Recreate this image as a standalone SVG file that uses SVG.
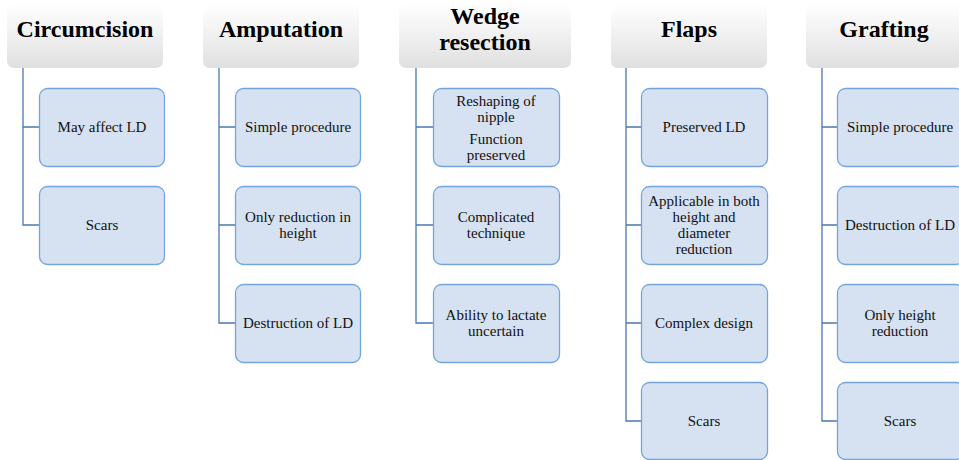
<svg xmlns="http://www.w3.org/2000/svg" width="959" height="460" viewBox="0 0 959 460">
<defs>
<linearGradient id="hg" x1="0" y1="0" x2="0" y2="1">
<stop offset="0" stop-color="#ffffff"/>
<stop offset="1" stop-color="#e0e0e0"/>
</linearGradient>
</defs>
<style>
.h{fill:url(#hg);}
.ht{font-family:'Liberation Serif','Times New Roman','DejaVu Serif',serif;font-weight:bold;font-size:24px;text-anchor:middle;fill:#000;}
.b{fill:#d6e1f2;stroke:#74a5da;stroke-width:1.3;}
.t{font-family:'Liberation Serif','Times New Roman','DejaVu Serif',serif;font-size:15px;text-anchor:middle;fill:#111;}
.c{fill:none;stroke:#4a78b0;stroke-width:1.3;}
</style>
<rect width="959" height="460" fill="#fff"/>
<g id="connectors">
<path class="c" d="M23,68V225H39M23,127H39"/>
<path class="c" d="M219,68V323H235M219,127H235M219,225H235"/>
<path class="c" d="M416,68V323H433M416,127H433M416,225H433"/>
<path class="c" d="M626,68V421H641M626,127H641M626,225H641M626,323H641"/>
<path class="c" d="M822,68V421H837M822,127H837M822,225H837M822,323H837"/>
</g>
<g id="h1"><rect class="h" x="7" y="4" width="156" height="64" rx="7"/><text class="ht" x="85" y="37" font-family="Liberation Serif, serif">Circumcision</text></g>
<g id="h2"><rect class="h" x="203" y="4" width="156" height="64" rx="7"/><text class="ht" x="281" y="37">Amputation</text></g>
<g id="h3"><rect class="h" x="399" y="4" width="172" height="64" rx="7"/><text class="ht" x="485" y="24">Wedge</text><text class="ht" x="485" y="50">resection</text></g>
<g id="h4"><rect class="h" x="611" y="4" width="156" height="64" rx="7"/><text class="ht" x="689" y="37">Flaps</text></g>
<g id="h5"><rect class="h" x="806" y="4" width="156" height="64" rx="7"/><text class="ht" x="884" y="37">Grafting</text></g>

<g id="n1a"><rect class="b" x="39.5" y="88.5" width="125" height="78" rx="8"/><text class="t" x="102" y="132">May affect LD</text></g>
<g id="n1b"><rect class="b" x="39.5" y="186.5" width="125" height="78" rx="8"/><text class="t" x="102" y="230">Scars</text></g>

<g id="n2a"><rect class="b" x="235.5" y="88.5" width="125" height="78" rx="8"/><text class="t" x="298" y="132">Simple procedure</text></g>
<g id="n2b"><rect class="b" x="235.5" y="186.5" width="125" height="78" rx="8"/><text class="t" x="298" y="222">Only reduction in</text><text class="t" x="298" y="238">height</text></g>
<g id="n2c"><rect class="b" x="235.5" y="284.5" width="125" height="78" rx="8"/><text class="t" x="298" y="328">Destruction of LD</text></g>

<g id="n3a"><rect class="b" x="433.5" y="88.5" width="126" height="78" rx="8"/><text class="t" x="496" y="106">Reshaping of</text><text class="t" x="496" y="122">nipple</text><text class="t" x="496" y="144">Function</text><text class="t" x="496" y="160">preserved</text></g>
<g id="n3b"><rect class="b" x="433.5" y="186.5" width="126" height="78" rx="8"/><text class="t" x="496" y="222">Complicated</text><text class="t" x="496" y="238">technique</text></g>
<g id="n3c"><rect class="b" x="433.5" y="284.5" width="126" height="78" rx="8"/><text class="t" x="496" y="320">Ability to lactate</text><text class="t" x="496" y="336">uncertain</text></g>

<g id="n4a"><rect class="b" x="641.5" y="88.5" width="126" height="78" rx="8"/><text class="t" x="704" y="132">Preserved LD</text></g>
<g id="n4b"><rect class="b" x="641.5" y="186.5" width="126" height="78" rx="8"/><text class="t" x="704" y="206">Applicable in both</text><text class="t" x="704" y="222">height and</text><text class="t" x="704" y="238">diameter</text><text class="t" x="704" y="254">reduction</text></g>
<g id="n4c"><rect class="b" x="641.5" y="284.5" width="126" height="78" rx="8"/><text class="t" x="704" y="328">Complex design</text></g>
<g id="n4d"><rect class="b" x="641.5" y="382.5" width="126" height="77" rx="8"/><text class="t" x="704" y="426">Scars</text></g>

<g id="n5a"><rect class="b" x="837.5" y="88.5" width="126" height="78" rx="8"/><text class="t" x="900" y="132">Simple procedure</text></g>
<g id="n5b"><rect class="b" x="837.5" y="186.5" width="126" height="78" rx="8"/><text class="t" x="900" y="230">Destruction of LD</text></g>
<g id="n5c"><rect class="b" x="837.5" y="284.5" width="126" height="78" rx="8"/><text class="t" x="900" y="320">Only height</text><text class="t" x="900" y="336">reduction</text></g>
<g id="n5d"><rect class="b" x="837.5" y="382.5" width="126" height="77" rx="8"/><text class="t" x="900" y="426">Scars</text></g>
</svg>
